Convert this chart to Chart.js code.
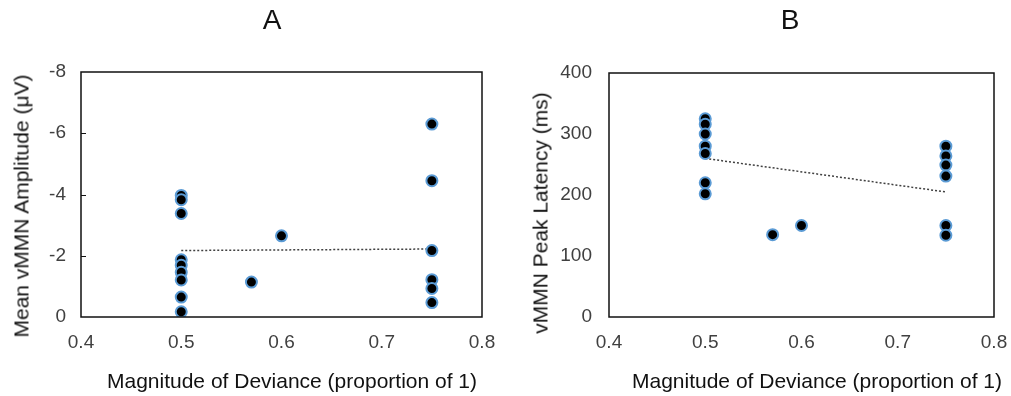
<!DOCTYPE html>
<html>
<head>
<meta charset="utf-8">
<script src="https://cdn.jsdelivr.net/npm/chart.js@4"></script>
<style>
  html, body { margin: 0; padding: 0; background: #fff; }
  body { width: 1011px; height: 396px; position: relative; overflow: hidden;
         font-family: "Liberation Sans", Arial, sans-serif; }
  .panel { position: absolute; top: 0; height: 396px; }
  .txt { position: absolute; white-space: nowrap; line-height: 1; color: #111; }
  .letter { font-size: 28px; transform: translateX(-50%); top: 6px; }
  .xtitle { font-size: 21px; transform: translateX(-50%); top: 370px; }
  .ytitle { font-size: 21px; transform: translate(-50%, -50%) rotate(-90deg); }
</style>
</head>
<body>
<div class="panel" style="left:0;width:505px"><canvas id="chartA"></canvas></div>
<div class="panel" style="left:505px;width:506px"><canvas id="chartB"></canvas></div>

<div class="txt letter" style="left:272px">A</div>
<div class="txt letter" style="left:790px">B</div>
<div class="txt xtitle" style="left:292px">Magnitude of Deviance (proportion of 1)</div>
<div class="txt xtitle" style="left:817px">Magnitude of Deviance (proportion of 1)</div>
<div class="txt ytitle" style="left:21px;top:206px">Mean vMMN Amplitude (μV)</div>
<div class="txt ytitle" style="left:540px;top:213px">vMMN Peak Latency (ms)</div>

<script>
// tick values
const devianceTicks = [0.4, 0.5, 0.6, 0.7, 0.8];
const amplitudeTicks = [-8, -6, -4, -2, 0];
const latencyTicks = [0, 100, 200, 300, 400];

// panel A: mean amplitude per participant
const ampDeviance = [0.5, 0.5, 0.5, 0.5, 0.5, 0.5, 0.5, 0.5, 0.5,
                     0.57, 0.6,
                     0.75, 0.75, 0.75, 0.75, 0.75, 0.75];
const ampValues = [-3.97, -3.83, -3.38, -1.87, -1.69, -1.46, -1.21, -0.65, -0.17,
                   -1.14, -2.65,
                   -6.3, -4.45, -2.17, -1.22, -0.93, -0.47];
const ampTrendX = [0.5, 0.75];
const ampTrendY = [-2.17, -2.22];

// panel B: peak latency per participant
const latDeviance = [0.5, 0.5, 0.5, 0.5, 0.5, 0.5, 0.5,
                     0.57, 0.6,
                     0.75, 0.75, 0.75, 0.75, 0.75, 0.75];
const latValues = [325, 316, 300, 280, 268, 220, 202,
                   135, 150,
                   280, 264, 249, 231, 150, 134];
const latTrendX = [0.5, 0.75];
const latTrendY = [260, 205];

const tickFont = { family: "'Liberation Sans', Arial, sans-serif", size: 19 };
const tickColor = "#404040";

const toPoints = (xs, ys) => xs.map((x, i) => ({ x, y: ys[i] }));

// box around the plot area, plus optional short inward ticks on the y axis
const framePlugin = {
  id: "frame",
  afterDatasetsDraw(chart, args, opts) {
    const { ctx, chartArea: a } = chart;
    ctx.save();
    ctx.strokeStyle = "#111";
    ctx.lineWidth = 1.5;
    ctx.strokeRect(a.left, a.top, a.right - a.left, a.bottom - a.top);
    if (opts.innerTicks) {
      const y = chart.scales.y;
      ctx.lineWidth = 1;
      opts.innerTicks.forEach((v) => {
        const py = Math.round(y.getPixelForValue(v)) + 0.5;
        ctx.beginPath();
        ctx.moveTo(a.left, py);
        ctx.lineTo(a.left + 5, py);
        ctx.stroke();
      });
    }
    ctx.restore();
  },
};

const buildConfig = (p) => ({
  type: "scatter",
  data: {
    datasets: [
      {
        data: toPoints(p.xs, p.ys),
        backgroundColor: "#000",
        borderColor: "#5b9bd5",
        borderWidth: 2,
        pointRadius: 5.5,
        pointHoverRadius: 5.5,
      },
      {
        type: "line",
        data: toPoints(p.trendX, p.trendY),
        borderColor: "#404040",
        borderWidth: 1.5,
        borderDash: [2, 2],
        pointRadius: 0,
        fill: false,
      },
    ],
  },
  plugins: [framePlugin],
  options: {
    responsive: false,
    animation: false,
    layout: { padding: { top: p.top, right: p.right, bottom: 0, left: 0 } },
    plugins: {
      legend: { display: false },
      tooltip: { enabled: false },
      frame: { innerTicks: p.innerTicks },
    },
    scales: {
      x: {
        type: "linear",
        min: 0.4,
        max: 0.8,
        afterBuildTicks: (s) => { s.ticks = devianceTicks.map((v) => ({ value: v })); },
        afterFit: (s) => {
          s.height = 396 - p.bottom;
          s.paddingLeft = 0;
          s.paddingRight = 0;
        },
        grid: { display: false, drawTicks: false },
        border: { display: false },
        ticks: { font: tickFont, color: tickColor, padding: 14, maxRotation: 0,
                 callback: (v) => v.toFixed(1) },
      },
      y: {
        type: "linear",
        min: p.yTicks[0],
        max: p.yTicks[p.yTicks.length - 1],
        reverse: p.reverse,
        afterBuildTicks: (s) => { s.ticks = p.yTicks.map((v) => ({ value: v })); },
        afterFit: (s) => {
          s.width = p.left;
          s.paddingTop = 0;
          s.paddingBottom = 0;
        },
        grid: { display: false, drawTicks: false },
        border: { display: false },
        ticks: { font: tickFont, color: tickColor, padding: p.tickPad },
      },
    },
  },
});

const canvasA = document.getElementById("chartA");
canvasA.width = 505; canvasA.height = 396;
new Chart(canvasA, buildConfig({
  xs: ampDeviance, ys: ampValues, trendX: ampTrendX, trendY: ampTrendY,
  yTicks: amplitudeTicks, reverse: true,
  left: 81, right: 23, top: 72, bottom: 317, tickPad: 15,
  innerTicks: [-6, -4, -2],
}));

const canvasB = document.getElementById("chartB");
canvasB.width = 506; canvasB.height = 396;
new Chart(canvasB, buildConfig({
  xs: latDeviance, ys: latValues, trendX: latTrendX, trendY: latTrendY,
  yTicks: latencyTicks, reverse: false,
  left: 104, right: 17, top: 73, bottom: 317, tickPad: 17,
  innerTicks: null,
}));
</script>
</body>
</html>
